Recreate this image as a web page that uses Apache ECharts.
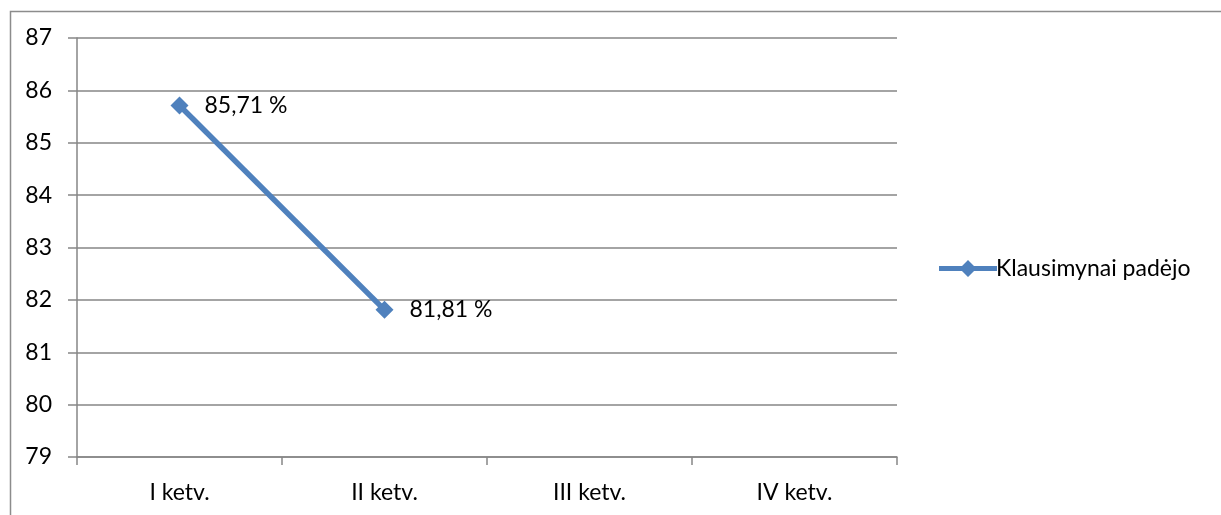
<!DOCTYPE html>
<html><head><meta charset="utf-8">
<script src="https://cdn.jsdelivr.net/npm/echarts@6/dist/echarts.min.js"></script>
<style>html,body{margin:0;padding:0;background:#fff}#c{width:1221px;height:515px}</style>
</head><body><div id="c"></div>
<script>
const categories = ['I ketv.', 'II ketv.', 'III ketv.', 'IV ketv.'];
const values = [85.71, 81.81, null, null];
const seriesName = 'Klausimynai padėjo';
const yMin = 79, yMax = 87, yStep = 1;

const FONT = 'Lato, "Open Sans", sans-serif';
const FS = 23;
const LEGEND_ICON = 'path://M0,6 L58,6 L58,11 L0,11 Z M29,0 L37.5,8.5 L29,17 L20.5,8.5 Z';
const chart = echarts.init(document.getElementById('c'));
chart.setOption({
  animation: false,
  backgroundColor: '#fff',
  graphic: [{
    type: 'rect', left: 8, top: 9,
    shape: { width: 1240, height: 540 },
    style: { fill: 'none', stroke: '#8c8c8c', lineWidth: 1.5 },
    silent: true
  }],
  grid: { left: 77, right: 324, top: 38, bottom: 58 },
  legend: {
    orient: 'vertical', left: 934, top: 252,
    itemWidth: 58, itemHeight: 17, itemGap: 0,
    icon: LEGEND_ICON,
    textStyle: { fontFamily: FONT, fontSize: FS, color: '#000', padding: [0, 0, 0, -6] },
    data: [seriesName]
  },
  xAxis: {
    type: 'category', data: categories, boundaryGap: true,
    axisLine: { lineStyle: { color: '#868686', width: 1.5 } },
    axisTick: { show: true, length: 8, lineStyle: { color: '#868686', width: 1.5 } },
    axisLabel: { fontFamily: FONT, fontSize: FS, color: '#000', margin: 24 }
  },
  yAxis: {
    type: 'value', min: yMin, max: yMax, interval: yStep,
    axisLine: { show: true, lineStyle: { color: '#868686', width: 1.5 } },
    axisTick: { show: true, length: 9, lineStyle: { color: '#868686', width: 1.5 } },
    splitLine: { lineStyle: { color: '#868686', width: 1.5 } },
    axisLabel: { fontFamily: FONT, fontSize: FS, color: '#000', margin: 25 }
  },
  series: [{
    name: seriesName, type: 'line', data: values,
    connectNulls: false,
    symbol: 'diamond', symbolSize: 18,
    itemStyle: { color: '#4F81BD' },
    lineStyle: { color: '#4F81BD', width: 5.5 },
    label: {
      show: true, position: 'right', distance: 16,
      fontFamily: FONT, fontSize: FS, color: '#000',
      formatter: p => String(p.value).replace('.', ',') + ' %'
    }
  }]
});
</script></body></html>
